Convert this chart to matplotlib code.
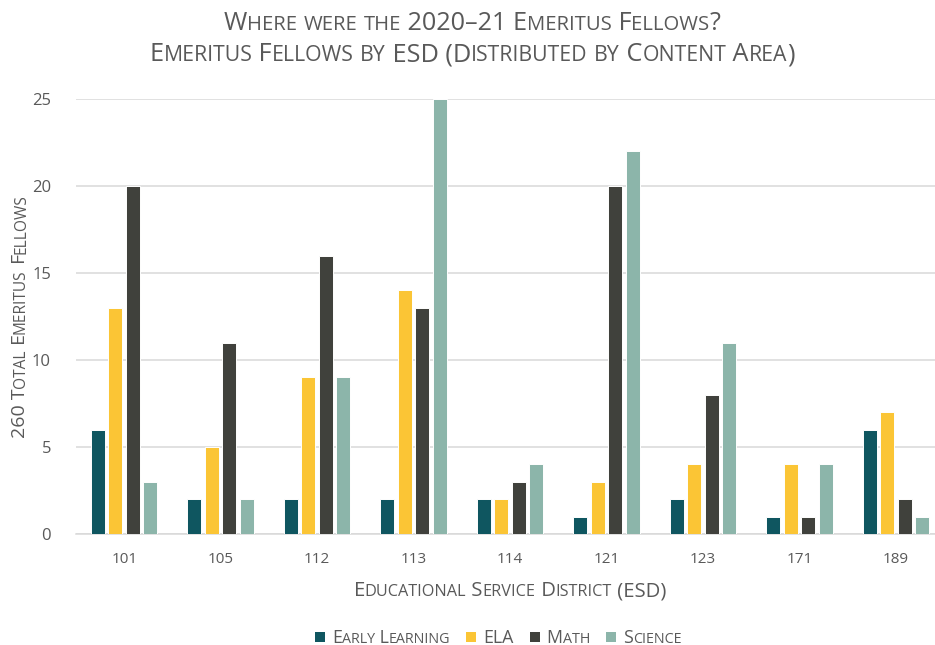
import matplotlib
matplotlib.use("Agg")
import matplotlib.pyplot as plt
from matplotlib.font_manager import FontProperties
from matplotlib.patches import Rectangle
import numpy as np

# data
districts = ["101", "105", "112", "113", "114", "121", "123", "171", "189"]
early_learning = [6, 2, 2, 2, 2, 1, 2, 1, 6]
ela = [13, 5, 9, 14, 2, 3, 4, 4, 7]
math = [20, 11, 16, 13, 3, 20, 8, 1, 2]
science = [3, 2, 9, 25, 4, 22, 11, 4, 1]
series_names = ["Early Learning", "ELA", "Math", "Science"]
y_ticks = [0, 5, 10, 15, 20, 25]

colors = ["#0f5660", "#fbc535", "#40413c", "#8cb5aa"]
text_color = "#595959"
grid_color = "#d9d9d9"
font = "Open Sans"

W, H = 935, 645
fig = plt.figure(figsize=(W / 100, H / 100), dpi=100)
plt.rcParams["font.family"] = [font, "DejaVu Sans"]
renderer = fig.canvas.get_renderer()


def advance(s, size):
    # width of a run, trailing spaces included
    prop = FontProperties(family=font, size=size)
    w1 = renderer.get_text_width_height_descent(s + "|", prop, False)[0]
    w0 = renderer.get_text_width_height_descent("|", prop, False)[0]
    return w1 - w0


def split_runs(text):
    runs = []
    for ch in text:
        small = ch.islower()
        if runs and runs[-1][1] == small:
            runs[-1][0] += ch.upper()
        else:
            runs.append([ch.upper(), small])
    return runs


def smallcaps_width(text, size, ratio=0.8):
    return sum(advance(s, size * ratio if sm else size) for s, sm in split_runs(text))


def smallcaps(x, y_top, text, size, ratio=0.8, rotation=0, ha="center"):
    # x, y_top in pixels, y measured from the top of the picture, on the baseline
    runs = split_runs(text)
    sizes = [size * ratio if sm else size for _, sm in runs]
    advs = [advance(s, fs) for (s, _), fs in zip(runs, sizes)]
    total = sum(advs)
    pos = -total / 2 if ha == "center" else 0
    ang = np.deg2rad(rotation)
    y = H - y_top
    for (s, _), fs, a in zip(runs, sizes, advs):
        px, py = x + pos * np.cos(ang), y + pos * np.sin(ang)
        fig.text(px / W, py / H, s, fontsize=fs, color=text_color, ha="left",
                 va="baseline", rotation=rotation, rotation_mode="anchor")
        pos += a
    return total


ax = fig.add_axes([76 / W, (H - 534) / H, 868 / W, 435 / H])
x = np.arange(len(districts))
step, width = 0.1815, 0.145
for i, vals in enumerate([early_learning, ela, math, science]):
    ax.bar(x + (i - 1.5) * step, vals, width, color=colors[i],
           edgecolor="white", linewidth=0.7, zorder=3)

ax.set_xlim(-0.5, len(districts) - 0.5)
ax.set_ylim(0, 25)
ax.set_yticks(y_ticks)
ax.set_xticks(x)
ax.set_xticklabels(districts)
ax.grid(axis="y", color=grid_color, lw=1.1, zorder=0)
for sp in ["top", "right", "left"]:
    ax.spines[sp].set_visible(False)
ax.spines["bottom"].set_color(grid_color)
ax.spines["bottom"].set_linewidth(1.1)
ax.tick_params(length=0, colors=text_color)
ax.tick_params(axis="y", labelsize=12, pad=18)
ax.tick_params(axis="x", labelsize=11, pad=13)

# titles and axis labels
smallcaps(472, 30, "Where were the 2020\u201321 Emeritus Fellows?", 18.2, ratio=0.8)
smallcaps(472, 61, "Emeritus Fellows by ESD (Distributed by Content Area)", 18.2, ratio=0.84)
smallcaps(510, 596, "Educational Service District (ESD)", 14.6)
smallcaps(25, 316, "260 Total Emeritus Fellows", 14, rotation=90)

# legend drawn by hand so its labels can be small caps
leg_size = 12.8
item_w = [10 + 7 + smallcaps_width(n, leg_size) for n in series_names]
gap = 16
lx = 315
for name, c, iw in zip(series_names, colors, item_w):
    fig.add_artist(Rectangle((lx / W, (H - 642) / H), 10 / W, 10 / H,
                             transform=fig.transFigure, color=c, lw=0))
    smallcaps(lx + 17, 643, name, leg_size, ha="left")
    lx += iw + gap

fig.savefig("out.png", dpi=100)
